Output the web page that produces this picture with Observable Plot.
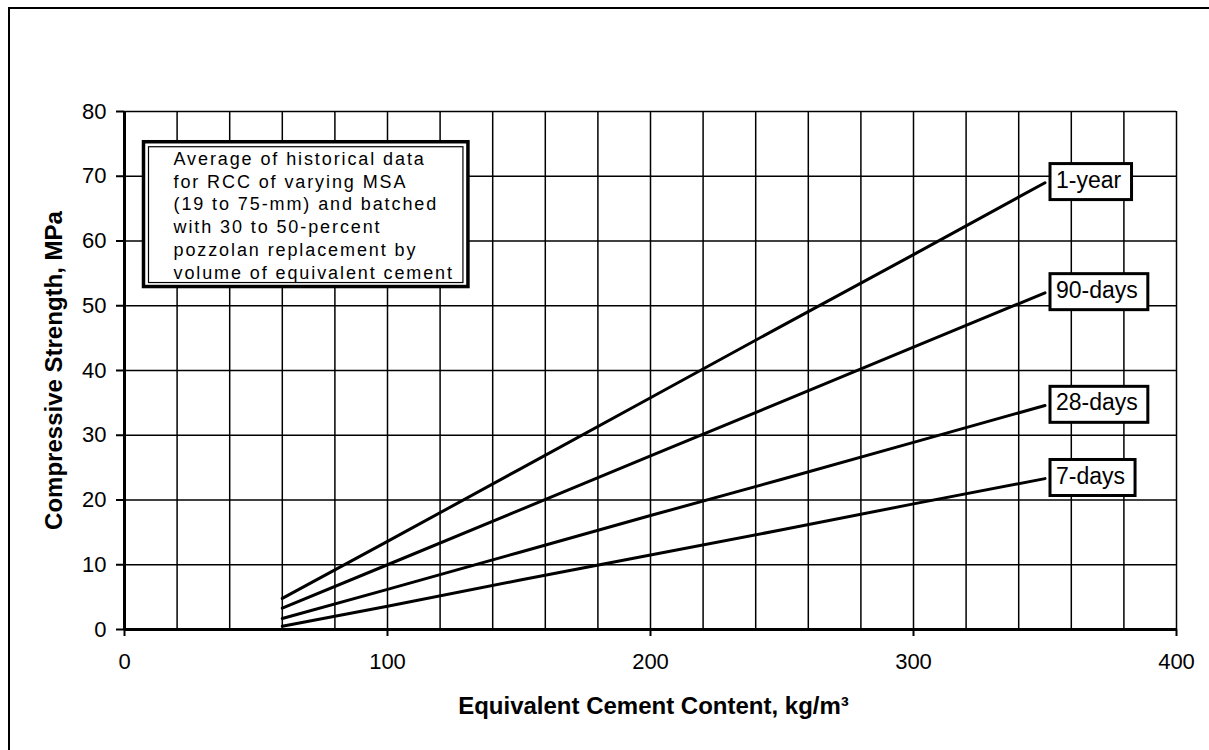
<!DOCTYPE html>
<html>
<head>
<meta charset="utf-8">
<script src="https://cdn.jsdelivr.net/npm/d3@7"></script>
<script src="https://cdn.jsdelivr.net/npm/@observablehq/plot@0.6"></script>
<style>
  html, body { margin: 0; padding: 0; background: #fff; overflow: hidden; }
  #wrap { position: relative; width: 1209px; height: 750px; overflow: hidden; background: #fff; }
  #wrap svg { position: absolute; left: 0; top: 0; }
  .edge { position: absolute; background: #000; pointer-events: none; }
</style>
</head>
<body>
<div id="wrap">
  <div class="edge" style="left:8px;top:7px;width:2px;height:743px;"></div>
  <div class="edge" style="left:8px;top:7px;width:1201px;height:2px;"></div>
</div>
<script>
// ---- data ----
const cement   = [60, 100, 150, 200, 250, 300, 350];            // kg/m3
const oneYear  = [4.8, 13.6, 24.7, 35.8, 46.9, 57.9, 69.0];     // MPa
const days90   = [3.3, 10.0, 18.4, 26.8, 35.2, 43.6, 52.0];
const days28   = [1.7, 6.2, 11.9, 17.6, 23.2, 28.9, 34.6];
const days7    = [0.5, 3.6, 7.6, 11.5, 15.4, 19.4, 23.3];
const seriesNames = ["1-year", "90-days", "28-days", "7-days"];
const seriesValues = [oneYear, days90, days28, days7];

const xTicks = [0, 100, 200, 300, 400];
const yTicks = [0, 10, 20, 30, 40, 50, 60, 70, 80];
const xGrid  = [20, 40, 60, 80, 100, 120, 140, 160, 180, 200, 220, 240, 260, 280, 300, 320, 340, 360, 380, 400];
const yGrid  = [10, 20, 30, 40, 50, 60, 70, 80];

const xTitle = "Equivalent Cement Content, kg/m³";
const yTitle = "Compressive Strength, MPa";
const noteLines = [
  "Average of historical data",
  "for RCC of varying MSA",
  "(19 to 75-mm) and batched",
  "with 30 to 50-percent",
  "pozzolan replacement by",
  "volume of equivalent cement"
];

// ---- tables built from the arrays ----
const rows = [];
seriesNames.forEach((s, i) => cement.forEach((c, j) => rows.push({series: s, x: c, y: seriesValues[i][j]})));
const ends = seriesNames.map((s, i) => ({series: s, x: cement[cement.length - 1], y: seriesValues[i][cement.length - 1]}));

const font = "'Liberation Sans', Arial, Helvetica, sans-serif";

const chart = Plot.plot({
  width: 1209,
  height: 750,
  marginLeft: 124,
  marginRight: 33,
  marginTop: 111,
  marginBottom: 121,
  x: {domain: [0, 400]},
  y: {domain: [0, 80]},
  style: {fontFamily: font, background: "transparent", color: "#000"},
  marks: [
    Plot.ruleX(xGrid, {stroke: "#000", strokeWidth: 1.5}),
    Plot.ruleY(yGrid, {stroke: "#000", strokeWidth: 1.5}),
    Plot.ruleX([0], {stroke: "#000", strokeWidth: 3}),
    Plot.ruleY([0], {stroke: "#000", strokeWidth: 3}),
    Plot.axisY({ticks: yTicks, tickSize: 8, tickPadding: 10, fontSize: 22, strokeWidth: 2, label: null, tickFormat: d => String(d)}),
    Plot.axisX({ticks: xTicks, tickSize: 7, tickPadding: 17, fontSize: 22, strokeWidth: 2, label: null, tickFormat: d => String(d)}),
    Plot.line(rows, {x: "x", y: "y", z: "series", stroke: "#000", strokeWidth: 3}),
    Plot.text(ends, {x: "x", y: "y", text: "series", textAnchor: "start", lineAnchor: "middle",
                     dx: 11, dy: -2.5, fontSize: 23, fill: "#000", ariaDescription: "series-label"}),
    Plot.text([noteLines.join("\n")], {frameAnchor: "top-left", textAnchor: "start", lineAnchor: "top",
                     dx: 49, dy: 37, fontSize: 18, lineHeight: 1.27, fill: "#000", ariaDescription: "note"}),
    Plot.text([xTitle], {frameAnchor: "bottom", textAnchor: "middle", lineAnchor: "middle", dy: 77, dx: 3,
                     fontSize: 24, fontWeight: "bold", fill: "#000"}),
    Plot.text([yTitle], {frameAnchor: "left", textAnchor: "middle", lineAnchor: "middle", rotate: -90, dx: -70,
                     fontSize: 24, fontWeight: "bold", fill: "#000"})
  ]
});

const wrap = document.getElementById("wrap");
wrap.prepend(chart);

// boxes behind label texts, sized from the rendered text
const NS = "http://www.w3.org/2000/svg";
function addBox(t, padL, padR, padT, padB, sw) {
  const b = t.getBBox();
  const r = document.createElementNS(NS, "rect");
  r.setAttribute("x", b.x - padL);
  r.setAttribute("y", b.y - padT);
  r.setAttribute("width", b.width + padL + padR);
  r.setAttribute("height", b.height + padT + padB);
  r.setAttribute("fill", "#fff");
  r.setAttribute("stroke", "#000");
  r.setAttribute("stroke-width", sw);
  if (t.getAttribute("transform")) r.setAttribute("transform", t.getAttribute("transform"));
  t.parentNode.insertBefore(r, t);
  return r;
}
const textGroups = Array.from(chart.querySelectorAll('g[aria-label="text"]'));
let labelG = chart.querySelector('g[aria-description="series-label"]') || textGroups[0];
let noteG = chart.querySelector('g[aria-description="note"]') || textGroups[1];
if (noteG) noteG.style.letterSpacing = "1.9px";
if (labelG) Array.from(labelG.querySelectorAll("text")).forEach(t => addBox(t, 6, 10, 3, 7, 3));
if (noteG) Array.from(noteG.querySelectorAll("text")).forEach(t => {
  addBox(t, 29, 14, 7, 3.5, 3.5);
  const inner = addBox(t, 24, 9, 2, -0.5, 1.2);
  inner.setAttribute("fill", "none");
});
</script>
</body>
</html>
